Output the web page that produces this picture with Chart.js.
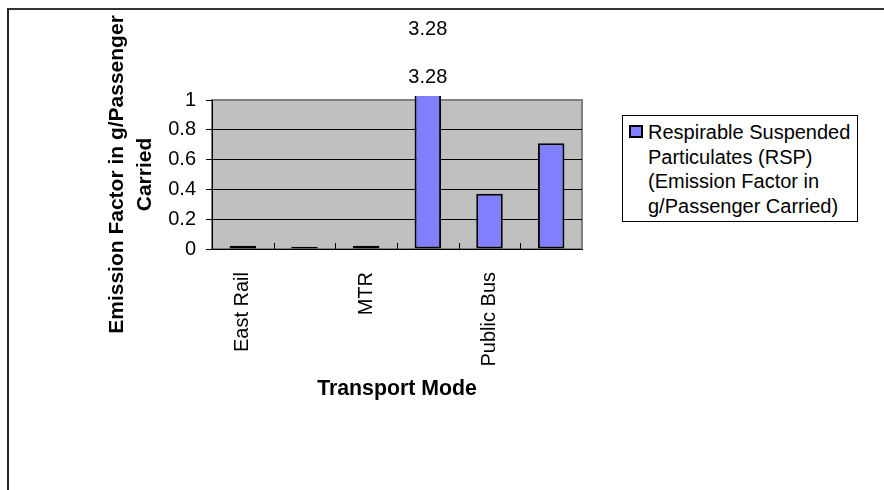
<!DOCTYPE html>
<html>
<head>
<meta charset="utf-8">
<title>RSP emission factor by transport mode</title>
<script src="https://cdn.jsdelivr.net/npm/chart.js@4.4.0/dist/chart.umd.min.js"></script>
<style>
    body {
        margin: 0;
        background: #fff;
        font-family: "Liberation Sans", Arial, sans-serif;
    }
    #wrap {
        position: relative;
        width: 884px;
        height: 490px;
        overflow: hidden;
    }
    #frame {
        position: absolute;
        left: 7px;
        top: 8px;
        width: 1000px;
        height: 1000px;
        border-left: 2px solid #222;
        border-top: 2px solid #333;
    }
    #myChart {
        position: absolute;
        left: 0;
        top: 0;
    }
    #legend {
        position: absolute;
        left: 622px;
        top: 115px;
        width: 236px;
        height: 107px;
        box-sizing: border-box;
        border: 1px solid #000;
        background: #fff;
    }
    #legend .swatch {
        position: absolute;
        left: 6px;
        top: 9px;
        width: 14px;
        height: 13px;
        box-sizing: border-box;
        border: 2px solid #000;
    }
    #legend .text {
        position: absolute;
        left: 25px;
        top: 4px;
        width: 206px;
        font-size: 20px;
        line-height: 24.7px;
        color: #000;
    }
</style>
</head>
<body>
<div id="wrap">
    <div id="frame"></div>
    <canvas id="myChart" width="884" height="490"></canvas>
    <div id="legend"></div>
</div>
<script>
const modes = ["East Rail", "West Rail", "MTR", "Ferry", "Public Bus", "Private Car"];
const rspFactor = [0.022, 0.015, 0.022, 3.28, 0.37, 0.71];
const yTicks = [0, 0.2, 0.4, 0.6, 0.8, 1];
const seriesName = "Respirable Suspended Particulates (RSP) (Emission Factor in g/Passenger Carried)";

const FONT = "'Liberation Sans', Arial, sans-serif";
const barColor = "#8080ff";

// grey plot area with darker frame, like the old spreadsheet charts
const plotBackground = {
    id: "plotBackground",
    beforeDraw(chart) {
        const { ctx, chartArea: a } = chart;
        ctx.save();
        ctx.fillStyle = "#c0c0c0";
        ctx.fillRect(a.left, a.top, a.width, a.height);
        ctx.strokeStyle = "#808080";
        ctx.lineWidth = 2;
        ctx.strokeRect(a.left, a.top, a.width, a.height);
        ctx.restore();
    },
};

// short tick marks between categories, pointing up into the plot,
// and value labels for bars that run past the top of the axis
const extras = {
    id: "extras",
    afterDraw(chart) {
        const { ctx, chartArea: a } = chart;
        const x = chart.scales.x;
        const y = chart.scales.y;
        ctx.save();
        ctx.strokeStyle = "#000";
        ctx.lineWidth = 1;
        for (let i = 1; i < modes.length; i++) {
            const px = Math.round((x.getPixelForValue(i - 1) + x.getPixelForValue(i)) / 2) + 0.5;
            ctx.beginPath();
            ctx.moveTo(px, a.bottom);
            ctx.lineTo(px, a.bottom - 6);
            ctx.stroke();
        }

        ctx.fillStyle = "#000";
        ctx.font = "20px " + FONT;
        ctx.textAlign = "center";
        ctx.textBaseline = "middle";
        const meta = chart.getDatasetMeta(0);
        rspFactor.forEach((v, i) => {
            if (v <= y.max) return;
            const bx = meta.data[i].x;
            ctx.fillText(String(v), bx, a.top - 23);
            ctx.fillText(String(v), bx, a.top - 71);
        });
        ctx.restore();
    },
};

const data = {
    labels: modes,
    datasets: [
        {
            label: seriesName,
            data: rspFactor,
            backgroundColor: barColor,
            borderColor: "#000",
            borderWidth: 2,
            borderSkipped: false,
            barPercentage: 0.43,
            categoryPercentage: 1,
            clip: { left: 0, top: 4, right: 0, bottom: 0 },
        },
    ],
};

const config = {
    type: "bar",
    data: data,
    options: {
        responsive: false,
        animation: false,
        layout: {
            padding: { left: 103, top: 100, right: 302, bottom: 88.5 },
        },
        scales: {
            x: {
                grid: { display: false },
                border: { display: true, color: "#000", width: 1 },
                ticks: {
                    autoSkip: false,
                    minRotation: 90,
                    maxRotation: 90,
                    padding: 15,
                    color: "#000",
                    font: { family: FONT, size: 20 },
                    // every other category name, as there is no room for all
                    callback: (v, i) => (i % 2 ? "" : modes[i]),
                },
                title: {
                    display: true,
                    text: "Transport Mode",
                    color: "#000",
                    padding: 0,
                    font: { family: FONT, size: 21.3, weight: "bold", lineHeight: 1.2 },
                },
                afterFit: (scale) => {
                    scale.height = 152.5;
                },
            },
            y: {
                min: yTicks[0],
                max: yTicks[yTicks.length - 1],
                afterBuildTicks: (scale) => {
                    scale.ticks = yTicks.map((v) => ({ value: v }));
                },
                grid: {
                    color: (c) => (c.tick && c.tick.value === 1 ? "#808080" : "#000"),
                    tickColor: "#000",
                    tickLength: 6,
                    lineWidth: 1,
                },
                border: { display: true, color: "#000", width: 1 },
                ticks: {
                    padding: 10,
                    color: "#000",
                    font: { family: FONT, size: 20 },
                    callback: (v) => String(Math.round(v * 10) / 10),
                },
                title: {
                    display: true,
                    text: ["Emission Factor in g/Passenger", "Carried"],
                    color: "#000",
                    padding: 0,
                    font: { family: FONT, size: 21, weight: "bold", lineHeight: 1.35 },
                },
                afterFit: (scale) => {
                    scale.width = 109;
                },
            },
        },
        plugins: {
            legend: { display: false },
            tooltip: { enabled: false },
        },
    },
    plugins: [plotBackground, extras],
};

const myChart = new Chart(document.getElementById("myChart").getContext("2d"), config);

// legend box built from the dataset
const legend = document.getElementById("legend");
const ds = myChart.data.datasets[0];
const sw = document.createElement("div");
sw.className = "swatch";
sw.style.background = ds.backgroundColor;
const txt = document.createElement("div");
txt.className = "text";
txt.textContent = ds.label;
legend.appendChild(sw);
legend.appendChild(txt);
</script>
</body>
</html>
